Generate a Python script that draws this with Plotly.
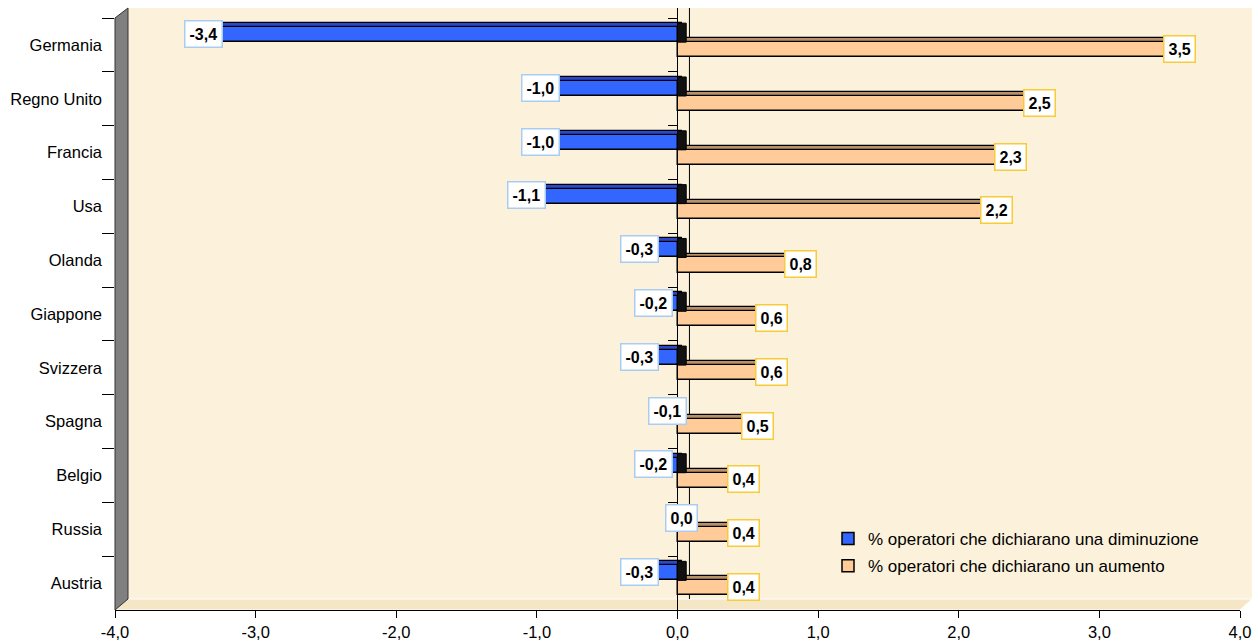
import plotly.graph_objects as go

# Paesi (dall'alto verso il basso) e saldi percentuali
paesi = ["Germania", "Regno Unito", "Francia", "Usa", "Olanda", "Giappone",
         "Svizzera", "Spagna", "Belgio", "Russia", "Austria"]
diminuzione = [-3.4, -1.0, -1.0, -1.1, -0.3, -0.2, -0.3, -0.1, -0.2, 0.0, -0.3]
aumento = [3.5, 2.5, 2.3, 2.2, 0.8, 0.6, 0.6, 0.5, 0.4, 0.4, 0.4]
x_ticks = [-4, -3, -2, -1, 0, 1, 2, 3, 4]
x_tick_labels = ["-4,0", "-3,0", "-2,0", "-1,0", "0,0", "1,0", "2,0", "3,0", "4,0"]

nome_dim = "% operatori che dichiarano una diminuzione"
nome_aum = "% operatori che dichiarano un aumento"

FONT = "Arial, Liberation Sans, sans-serif"
BLU, BLU_TOP = "#3366FF", "#2C48C8"
ARANCIO, ARANCIO_TOP = "#FFCC99", "#B8916A"
CREMA = "#FCF2DB"

W, H = 1258, 643
L, R, T, B = 115, 18, 18, 33
pw, ph = W - L - R, H - T - B


def px_x(p):
    return (p - L) / pw


def px_y(p):
    return (H - B - p) / ph


fig = go.Figure()

# facce frontali delle barre
fig.add_trace(go.Bar(
    y=paesi, x=diminuzione, orientation="h", base=0,
    offset=-0.33, width=0.279, name=nome_dim, legendgroup="dim",
    marker=dict(color=BLU, line=dict(color="black", width=1.5)),
    hoverinfo="x+y"))
fig.add_trace(go.Bar(
    y=paesi, x=aumento, orientation="h", base=0,
    offset=-0.05, width=0.279, name=nome_aum, legendgroup="aum",
    marker=dict(color=ARANCIO, line=dict(color="black", width=1.5)),
    hoverinfo="x+y"))

# facce superiori (effetto prospettico)
fig.add_trace(go.Bar(
    y=paesi, x=diminuzione, orientation="h", base=0.03,
    offset=-0.404, width=0.074, showlegend=False, yaxis="y2",
    marker=dict(color=BLU_TOP, line=dict(color="black", width=1.2)),
    hoverinfo="skip"))
fig.add_trace(go.Bar(
    y=paesi, x=aumento, orientation="h", base=0.03,
    offset=-0.124, width=0.074, showlegend=False, yaxis="y2",
    marker=dict(color=ARANCIO_TOP, line=dict(color="black", width=1.2)),
    hoverinfo="skip"))


def fmt(v):
    return f"{v:.1f}".replace(".", ",")


annotations = []
shapes = []
for i, (p, d, a) in enumerate(zip(paesi, diminuzione, aumento)):
    annotations.append(dict(
        x=d, y=p, text=fmt(d), showarrow=False, xshift=4, yshift=11,
        font=dict(family=FONT, size=16, color="black", weight="bold"),
        bgcolor="white", bordercolor="#A9CDF2", borderwidth=1.5, borderpad=4))
    annotations.append(dict(
        x=a, y=p, text=fmt(a), showarrow=False, xshift=10, yshift=-4,
        font=dict(family=FONT, size=16, color="black", weight="bold"),
        bgcolor="white", bordercolor="#F7CB3A", borderwidth=1.5, borderpad=4))
    if d != 0:
        # lato scuro della barra in corrispondenza dello zero
        shapes.append(dict(
            type="rect", xref="x", yref="y", x0=0, x1=0.062,
            y0=i - 0.404, y1=i - 0.051, fillcolor="#111111",
            line=dict(color="black", width=1), layer="above"))

# parete di fondo, pavimento e parete laterale
shapes.insert(0, dict(
    type="rect", xref="paper", yref="paper", layer="below",
    x0=px_x(128), x1=px_x(1252), y0=px_y(599), y1=px_y(8),
    fillcolor=CREMA, line=dict(width=0)))
shapes.insert(1, dict(
    type="path", xref="paper", yref="paper", layer="below",
    path=(f"M {px_x(115)},{px_y(610)} L {px_x(1240)},{px_y(610)} "
          f"L {px_x(1252)},{px_y(599)} L {px_x(128)},{px_y(599)} Z"),
    fillcolor="#F5E7C6", line=dict(color="white", width=1)))
shapes.insert(2, dict(
    type="line", xref="x", yref="paper", layer="below",
    x0=0.085, x1=0.085, y0=px_y(599), y1=px_y(8),
    line=dict(color="black", width=1)))
shapes.append(dict(
    type="path", xref="paper", yref="paper", layer="above",
    path=(f"M {px_x(115)},{px_y(18)} L {px_x(128)},{px_y(8)} "
          f"L {px_x(128)},{px_y(599)} L {px_x(115)},{px_y(610)} Z"),
    fillcolor="#808080", line=dict(color="#333333", width=1)))
shapes.append(dict(
    type="line", xref="x", yref="paper", layer="above",
    x0=0, x1=0, y0=px_y(619), y1=px_y(8),
    line=dict(color="black", width=1)))

fig.update_layout(
    width=W, height=H,
    margin=dict(l=L, r=R, t=T, b=B, pad=0, autoexpand=False),
    paper_bgcolor="white", plot_bgcolor=CREMA,
    barmode="overlay", bargap=0,
    separators=",.",
    font=dict(family=FONT, size=16, color="black"),
    xaxis=dict(range=[-4, 4], tickvals=x_ticks, ticktext=x_tick_labels,
               ticks="outside", ticklen=7, tickcolor="black",
               automargin=False,
               showline=True, linecolor="black", linewidth=1,
               showgrid=False, zeroline=False,
               tickfont=dict(size=16.5, family=FONT)),
    yaxis=dict(type="category", categoryorder="array", categoryarray=paesi,
               range=[10.5, -0.5], tickson="boundaries",
               ticks="outside", ticklen=12, tickcolor="black",
               ticklabelstandoff=12, automargin=False,
               showline=False, showgrid=False, zeroline=False,
               tickfont=dict(size=16.5, family=FONT)),
    yaxis2=dict(type="category", categoryorder="array", categoryarray=paesi,
                range=[10.5, -0.5], overlaying="y", anchor="free",
                position=0.5, side="left", tickson="boundaries",
                ticks="outside", ticklen=10, tickcolor="black",
                showticklabels=False, showline=False, showgrid=False,
                zeroline=False, automargin=False),
    legend=dict(x=px_x(828), y=px_y(521), xanchor="left", yanchor="top",
                bgcolor="rgba(0,0,0,0)", font=dict(size=17, family=FONT),
                traceorder="grouped", itemwidth=30, tracegroupgap=2),
    annotations=annotations,
    shapes=shapes,
)

fig.write_html("out.html")
